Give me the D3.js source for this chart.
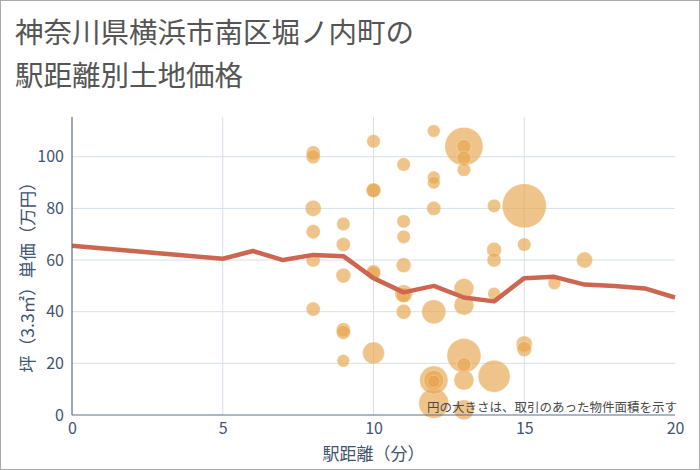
<!DOCTYPE html>
<html><head><meta charset="utf-8">
<script src="https://cdn.jsdelivr.net/npm/d3@7/dist/d3.min.js"></script>
<style>body{margin:0;background:#fff}svg{display:block}text{font-family:"Noto Sans CJK JP","Noto Sans",sans-serif}</style>
</head><body><svg id="c" width="700" height="470"></svg>
<script>
const titleLines = ["神奈川県横浜市南区堀ノ内町の", "駅距離別土地価格"];
const xLabel = "駅距離（分）";
const yLabel = "坪（3.3㎡）単価（万円）";
const note = "円の大きさは、取引のあった物件面積を示す";
const xTicks = [0, 5, 10, 15, 20];
const yTicks = [0, 20, 40, 60, 80, 100];

// average line
const lineX = [0, 5, 6, 7, 8, 9, 10, 11, 12, 13, 14, 15, 16, 17, 18, 19, 20];
const lineY = [65.5, 60.5, 63.5, 60, 62, 61.5, 53, 47.5, 50, 45.5, 44, 53, 53.5, 50.5, 50, 49, 45.5];

// transactions: distance, unit price, area
const bubX = [8, 8, 8, 8, 8, 8,
  9, 9, 9, 9, 9, 9,
  10, 10, 10, 10, 10, 10,
  11, 11, 11, 11, 11, 11, 11,
  12, 12, 12, 12, 12, 12, 12, 12, 12,
  13, 13, 13, 13, 13, 13, 13, 13, 13, 13,
  14, 14, 14, 14, 14,
  15, 15, 15, 15,
  16, 17];
const bubY = [101.5, 100, 80, 71, 60, 41,
  74, 66, 54, 33, 32, 21,
  106, 87, 87, 55.5, 55, 24,
  97, 75, 69, 58, 47, 46.5, 40,
  110, 92, 90, 80, 40, 13.5, 13.5, 13, 4.5,
  104, 104, 99.5, 95, 49, 42.5, 23, 19.5, 13.5, 2,
  81, 64, 60, 47, 15,
  81, 66, 27.5, 25.5,
  51, 60];
const bubA = [100, 100, 130, 100, 100, 100,
  90, 100, 110, 100, 100, 80,
  90, 110, 100, 100, 100, 240,
  90, 90, 90, 110, 160, 110, 110,
  80, 80, 80, 100, 290, 400, 200, 80, 450,
  730, 100, 100, 90, 200, 200, 580, 100, 200, 200,
  90, 110, 100, 80, 515,
  975, 90, 130, 110,
  80, 130];

const svg = d3.select("#c");
svg.append("rect").attr("x", 0.5).attr("y", 0.5).attr("width", 699).attr("height", 469)
  .attr("fill", "#fff").attr("stroke", "#aaa").attr("stroke-width", 1);

const L = 72, R = 675, T = 117, B = 415;
const x = d3.scaleLinear().domain([0, 20]).range([L, R]);
const y = d3.scaleLinear().domain([0, 115.4]).range([B, T]);
const r = d3.scaleSqrt().domain([0, 1000]).range([0, 22.3]);

// title
svg.append("g").selectAll("text").data(titleLines).join("text")
  .attr("x", 15).attr("y", (d, i) => 43 + i * 43)
  .attr("font-size", 28.5).attr("fill", "#555").text(d => d);

// grid
const g = svg.append("g");
g.selectAll(".gy").data(yTicks.filter(v => v > 0)).join("line")
  .attr("x1", L).attr("x2", R).attr("y1", d => y(d)).attr("y2", d => y(d))
  .attr("stroke", "#d6dfe9").attr("stroke-width", 1);
g.selectAll(".gx").data(xTicks.filter(v => v > 0 && v < 20)).join("line")
  .attr("y1", T).attr("y2", B).attr("x1", d => x(d)).attr("x2", d => x(d))
  .attr("stroke", "#d6dfe9").attr("stroke-width", 1);

// bubbles
const bubbles = bubX.map((v, i) => ({x: v, y: bubY[i], a: bubA[i]}))
  .sort((a, b) => b.a - a.a);
svg.append("g").selectAll("circle").data(bubbles).join("circle")
  .attr("cx", d => x(d.x)).attr("cy", d => y(d.y)).attr("r", d => r(d.a))
  .attr("fill", "#e6a54c").attr("fill-opacity", 0.65)
  .attr("stroke", "#fff").attr("stroke-opacity", 0.4).attr("stroke-width", 0.7);

// line
svg.append("path").datum(lineX.map((v, i) => [v, lineY[i]]))
  .attr("d", d3.line().x(d => x(d[0])).y(d => y(d[1])))
  .attr("fill", "none").attr("stroke", "#cd6651").attr("stroke-width", 4.5)
  .attr("stroke-linejoin", "round");

// axes
const axisColor = "#5b6f8c";
const xa = svg.append("g").attr("transform", `translate(0,${B})`)
  .call(d3.axisBottom(x).tickValues(xTicks).tickSize(0).tickPadding(8));
const ya = svg.append("g").attr("transform", `translate(${L},0)`)
  .call(d3.axisLeft(y).tickValues(yTicks).tickSize(0).tickPadding(8));
[xa, ya].forEach(a => {
  a.select(".domain").attr("stroke", axisColor).attr("stroke-width", 1.2);
  a.selectAll("text").attr("font-size", 16).attr("fill", "#3f5470")
    .attr("font-family", "'Noto Sans CJK JP','Noto Sans',sans-serif");
});
ya.select(".domain").attr("d", `M0,${T}V${B}`);
xa.select(".domain").attr("d", `M${L},0H${R}`);

// labels
svg.append("text").attr("x", x(10)).attr("y", 460).attr("text-anchor", "middle")
  .attr("font-size", 17).attr("fill", "#3f5470").text(xLabel);
svg.append("text").attr("transform", `translate(34,273) rotate(-90)`)
  .attr("text-anchor", "middle").attr("font-size", 17.5).attr("fill", "#3f5470").text(yLabel);

// note
svg.append("text").attr("x", 677).attr("y", 412).attr("text-anchor", "end")
  .attr("font-size", 12.5).attr("fill", "#4a4a4a").text(note);
</script></body></html>
